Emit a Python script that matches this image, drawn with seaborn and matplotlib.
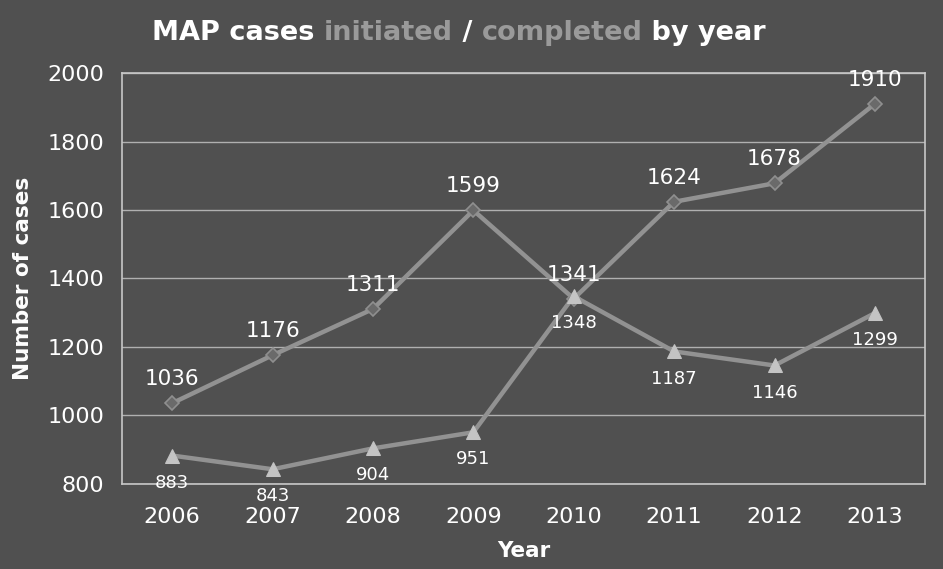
import pandas as pd
import seaborn as sns
import matplotlib.pyplot as plt

years = ["2006", "2007", "2008", "2009", "2010", "2011", "2012", "2013"]
initiated = [1036, 1176, 1311, 1599, 1341, 1624, 1678, 1910]
completed = [883, 843, 904, 951, 1348, 1187, 1146, 1299]

bg = "#505050"
sns.set_style("dark", {"axes.facecolor": bg, "figure.facecolor": bg})
plt.rcParams["font.family"] = ["DejaVu Sans"]

df = pd.DataFrame({"year": years, "initiated": initiated, "completed": completed})
df["x"] = range(len(years))

fig = plt.figure(figsize=(9.43, 5.69), dpi=100)
ax = fig.add_axes([0.1294, 0.1494, 0.8516, 0.7223])

sns.lineplot(data=df, x="x", y="initiated", ax=ax, color="#929292", linewidth=3.2,
             marker="D", markersize=7.5, markerfacecolor="#6a6a6a", markeredgecolor="#8f8f8f",
             markeredgewidth=1.2, zorder=3)
sns.lineplot(data=df, x="x", y="completed", ax=ax, color="#929292", linewidth=3.2,
             marker="^", markersize=10, markerfacecolor="#c4c4c4", markeredgecolor="#c4c4c4",
             zorder=3)

for i, v in enumerate(initiated):
    ax.annotate(str(v), (i, v), xytext=(0, 10), textcoords="offset points",
                ha="center", va="bottom", color="white", fontsize=15.5, zorder=5)
for i, v in enumerate(completed):
    ax.annotate(str(v), (i, v), xytext=(0, -13), textcoords="offset points",
                ha="center", va="top", color="white", fontsize=13, zorder=5)

ax.set_xlim(-0.5, 7.5)
ax.set_ylim(800, 2000)
ax.set_xticks(range(len(years)))
ax.set_xticklabels(years)
ax.set_yticks(range(800, 2001, 200))
ax.tick_params(axis="both", colors="#c8c8c8", labelcolor="white", labelsize=16, length=7)
ax.tick_params(axis="x", direction="inout", pad=13)
ax.tick_params(axis="y", direction="out", pad=6)
ax.grid(axis="y", color="#b0b0b0", linewidth=1)
ax.grid(axis="x", visible=False)
for s in ax.spines.values():
    s.set_visible(True)
    s.set_color("#c8c8c8")
    s.set_linewidth(1.2)

ax.set_xlabel("Year", color="white", fontsize=15.5, fontweight="bold", labelpad=10)
ax.set_ylabel("Number of cases", color="white", fontsize=15.5, fontweight="bold", labelpad=10)

# title with coloured words
parts = [("MAP cases ", "white"), ("initiated", "#9a9a9a"), (" / ", "white"),
         ("completed", "#9a9a9a"), (" by year", "white")]
t = fig.text(0.161, 0.942, parts[0][0], color=parts[0][1], fontsize=19.5,
             fontweight="bold", va="center", ha="left")
for txt, col in parts[1:]:
    t = ax.annotate(txt, xy=(1, 0), xycoords=t, va="bottom", ha="left",
                    color=col, fontsize=19.5, fontweight="bold", annotation_clip=False)

fig.savefig("out.png", dpi=100, facecolor=bg)
